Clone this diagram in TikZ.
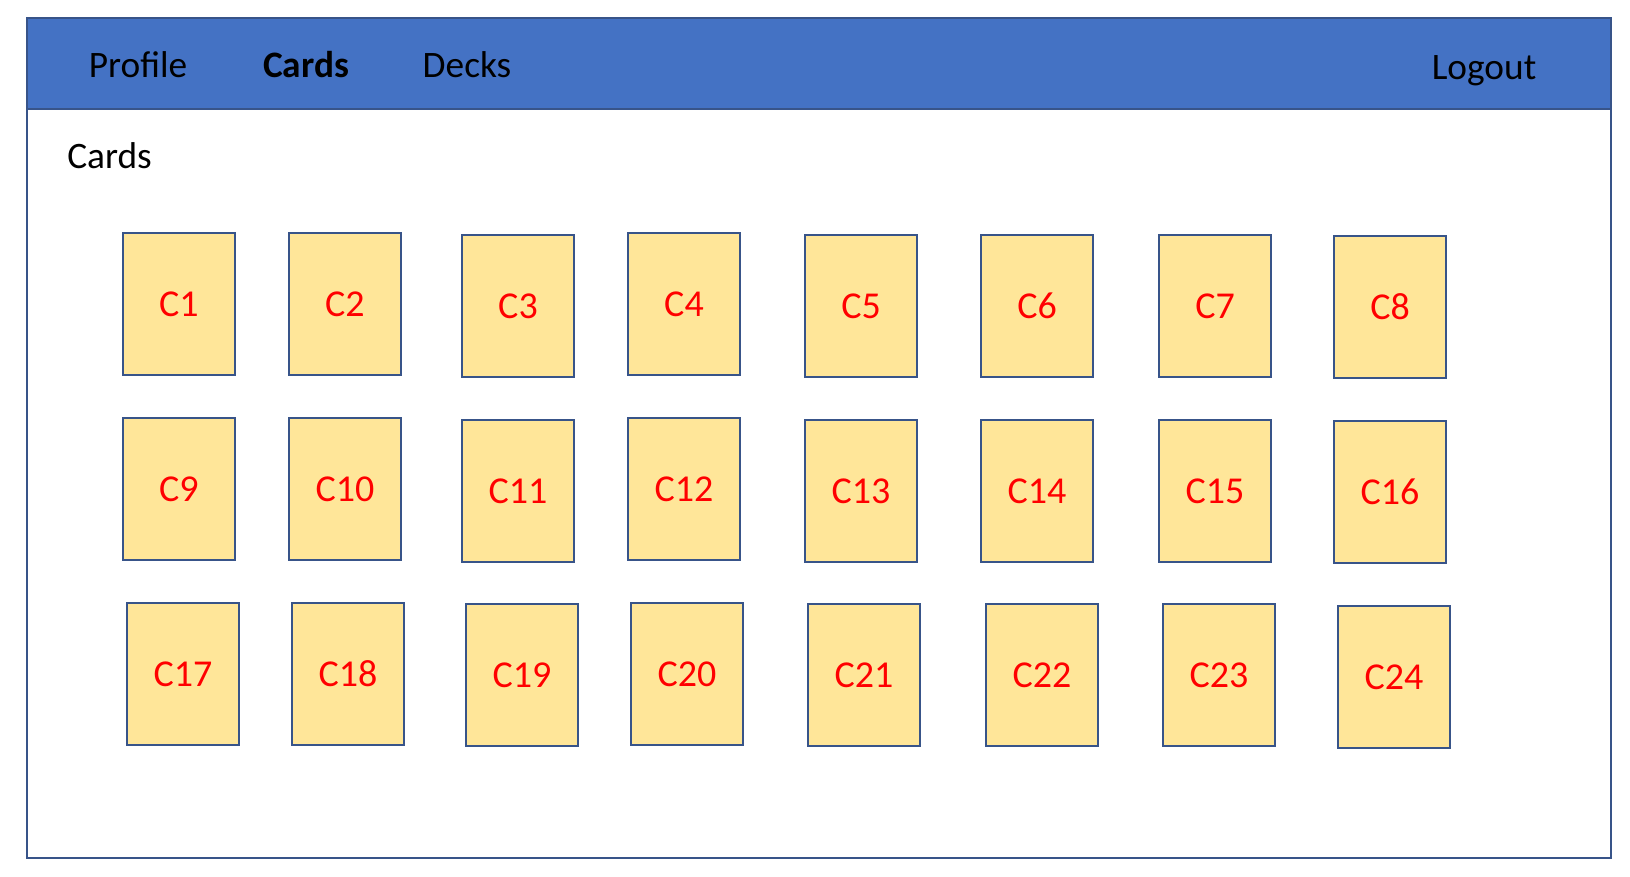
\documentclass[tikz,border=0pt]{standalone}
\usepackage{fontspec}
\setmainfont{Carlito}
\definecolor{barblue}{HTML}{4472C4}
\definecolor{lineblue}{HTML}{385489}
\definecolor{cardgold}{HTML}{FFE699}
\definecolor{cardred}{HTML}{FF0000}
\begin{document}
\begin{tikzpicture}[
        x=0.75pt, y=-0.75pt,
        card/.style={rectangle, draw=lineblue, fill=cardgold, line width=1.4pt,
            minimum width=84pt, minimum height=106.5pt, inner sep=0pt,
            text=cardred, font=\fontsize{28.5}{34}\selectfont},
        navitem/.style={anchor=base, inner sep=0pt, font=\fontsize{28}{34}\selectfont},
        frame/.style={draw=lineblue, line width=1.5pt}
    ]
        \useasboundingbox (0,0) rectangle (1630,876);

        % Window and menu bar
        \draw[frame, fill=white] (27,18) rectangle (1611,858);
        \draw[frame, fill=barblue] (27,18) rectangle (1611,109);
        \node[navitem] (profile) at (138,77) {Profile};
        \node[navitem, font=\fontsize{28}{34}\selectfont\bfseries] (cards) at (306,77) {Cards};
        \node[navitem] (decks) at (467,77) {Decks};
        \node[navitem] (logout) at (1484,79) {Logout};

        % Page title
        \node[navitem, anchor=base west] (title) at (67,168) {Cards};

        % First row
        \node[card] (c1) at (179,304) {C1};
        \node[card] (c2) at (345,304) {C2};
        \node[card] (c3) at (518,306) {C3};
        \node[card] (c4) at (684,304) {C4};
        \node[card] (c5) at (861,306) {C5};
        \node[card] (c6) at (1037,306) {C6};
        \node[card] (c7) at (1215,306) {C7};
        \node[card] (c8) at (1390,307) {C8};

        % Second row
        \node[card] (c9) at (179,489) {C9};
        \node[card] (c10) at (345,489) {C10};
        \node[card] (c11) at (518,491) {C11};
        \node[card] (c12) at (684,489) {C12};
        \node[card] (c13) at (861,491) {C13};
        \node[card] (c14) at (1037,491) {C14};
        \node[card] (c15) at (1215,491) {C15};
        \node[card] (c16) at (1390,492) {C16};

        % Third row
        \node[card] (c17) at (183,674) {C17};
        \node[card] (c18) at (348,674) {C18};
        \node[card] (c19) at (522,675) {C19};
        \node[card] (c20) at (687,674) {C20};
        \node[card] (c21) at (864,675) {C21};
        \node[card] (c22) at (1042,675) {C22};
        \node[card] (c23) at (1219,675) {C23};
        \node[card] (c24) at (1394,677) {C24};
    \end{tikzpicture}
\end{document}
